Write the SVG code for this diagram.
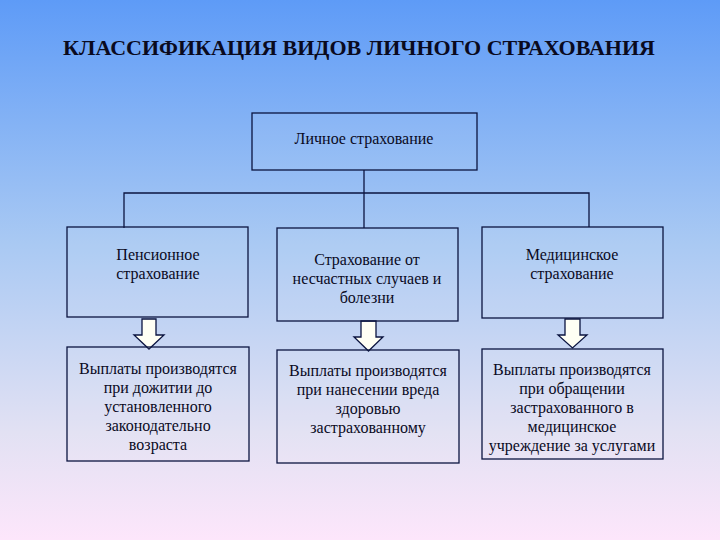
<svg xmlns="http://www.w3.org/2000/svg" width="720" height="540" viewBox="0 0 720 540">
<defs>
<linearGradient id="bg" x1="0" y1="0" x2="0" y2="1">
<stop offset="0" stop-color="#5e9bf7"/>
<stop offset="0.45" stop-color="#a9c9f3"/>
<stop offset="0.8" stop-color="#e2e1f3"/>
<stop offset="1" stop-color="#fde6fb"/>
</linearGradient>
<style>
.box{fill:#ffffff;fill-opacity:0.06;stroke:#0b1440;stroke-width:1.3}
.t{font-family:"Liberation Serif","DejaVu Serif",serif;font-size:16px;fill:#0a0a1e;text-anchor:middle}
.title{font-family:"Liberation Serif","DejaVu Serif",serif;font-size:22px;font-weight:bold;fill:#0a0a1e;text-anchor:middle}
.conn{fill:none;stroke:#0b1440;stroke-width:1.3}
.arr{fill:#fffff4;stroke:#0b1440;stroke-width:1.3;stroke-linejoin:miter}
</style>
</defs>
<rect x="0" y="0" width="720" height="540" fill="url(#bg)"/>
<text class="title" x="359" y="55">КЛАССИФИКАЦИЯ ВИДОВ ЛИЧНОГО СТРАХОВАНИЯ</text>
<g id="connectors">
<path class="conn" d="M364 170 V228"/>
<path class="conn" d="M124 228 V193 H589 V227"/>
<path class="arr" d="M142 319 H156 V335 H164 L149 349 L134 335 H142 Z"/>
<path class="arr" d="M361 321 H376 V337 H383 L368.5 351 L354 337 H361 Z"/>
<path class="arr" d="M565 319 H580 V335 H587 L572.5 348 L558 335 H565 Z"/>
</g>
<g id="top">
<rect class="box" x="252" y="113" width="225" height="57"/>
<text class="t" x="364" y="144">Личное страхование</text>
</g>
<g id="pension">
<rect class="box" x="67" y="227" width="181" height="90"/>
<text class="t" x="158" y="260">Пенсионное</text>
<text class="t" x="158" y="279">страхование</text>
</g>
<g id="accident">
<rect class="box" x="277" y="228" width="181" height="93"/>
<text class="t" x="367" y="265">Страхование от</text>
<text class="t" x="367" y="284">несчастных случаев и</text>
<text class="t" x="367" y="303">болезни</text>
</g>
<g id="medical">
<rect class="box" x="482" y="227" width="181" height="91"/>
<text class="t" x="572" y="260">Медицинское</text>
<text class="t" x="572" y="279">страхование</text>
</g>
<g id="pension-pay">
<rect class="box" x="67" y="347" width="182" height="114"/>
<text class="t" x="158" y="374">Выплаты производятся</text>
<text class="t" x="158" y="393">при дожитии до</text>
<text class="t" x="158" y="412">установленного</text>
<text class="t" x="158" y="431">законодательно</text>
<text class="t" x="158" y="450">возраста</text>
</g>
<g id="accident-pay">
<rect class="box" x="277" y="350" width="182" height="113"/>
<text class="t" x="368" y="376">Выплаты производятся</text>
<text class="t" x="368" y="395">при нанесении вреда</text>
<text class="t" x="368" y="414">здоровью</text>
<text class="t" x="368" y="433">застрахованному</text>
</g>
<g id="medical-pay">
<rect class="box" x="482" y="349" width="181" height="110"/>
<text class="t" x="572" y="375">Выплаты производятся</text>
<text class="t" x="572" y="394">при обращении</text>
<text class="t" x="572" y="413">застрахованного в</text>
<text class="t" x="572" y="432">медицинское</text>
<text class="t" x="572" y="451">учреждение за услугами</text>
</g>
</svg>
